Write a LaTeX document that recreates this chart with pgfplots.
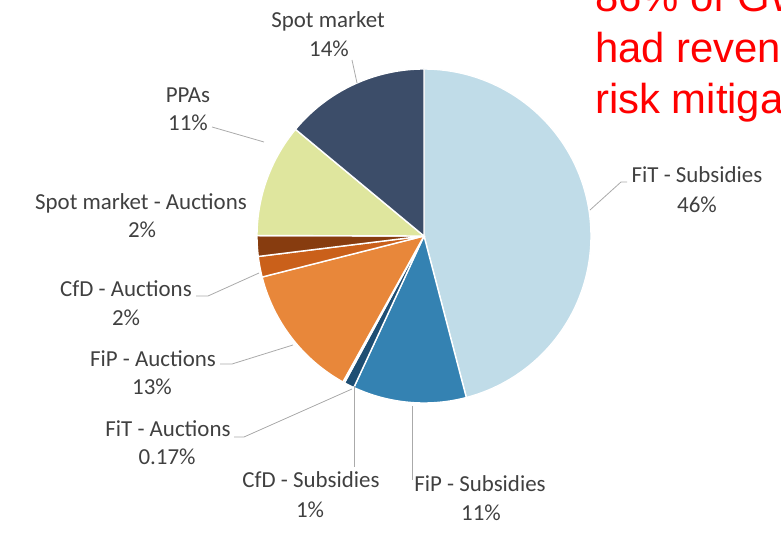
\documentclass[border=0pt]{standalone}
\usepackage{pgfplots}
\pgfplotsset{compat=1.18}
\usepackage{fontspec}
\setmainfont{Carlito}
\newfontfamily\arialfont{Liberation Sans}
\definecolor{cFiTs}{RGB}{192,220,232}
\definecolor{cFiPs}{RGB}{52,130,178}
\definecolor{cCfDs}{RGB}{30,78,115}
\definecolor{cFiTa}{RGB}{236,160,100}
\definecolor{cFiPa}{RGB}{232,135,58}
\definecolor{cCfDa}{RGB}{202,96,26}
\definecolor{cSpotA}{RGB}{135,60,15}
\definecolor{cPPA}{RGB}{223,230,158}
\definecolor{cSpot}{RGB}{60,77,105}
\definecolor{labgray}{RGB}{64,64,64}
\definecolor{leader}{RGB}{170,170,170}
\def\cum{0}
\def\total{100.17}
% slice: share (percent), colour
\newcommand{\slice}[2]{%
  \pgfmathsetmacro\sa{90-(\cum+#1)/\total*360}%
  \pgfmathsetmacro\sb{90-\cum/\total*360}%
  \addplot[fill=#2, draw=white, line width=1.4pt, domain=\sa:\sb, samples=90, variable=\t]
    ({424+167*cos(\t)},{297+167*sin(\t)}) -- (axis cs:424,297) -- cycle;
  \pgfmathsetmacro\newcum{\cum+#1}%
  \xdef\cum{\newcum}%
}
\newcommand{\lab}[3]{\node[anchor=base, inner sep=0pt, text=labgray, font=\fontsize{23}{28}\selectfont] at (axis cs:#1,#2) {#3};}
\begin{document}
\begin{tikzpicture}
\path[use as bounding box, clip] (0,0) rectangle (781bp,533bp);
\begin{axis}[
  at={(0,0)}, anchor=south west,
  scale only axis, width=781bp, height=533bp,
  xmin=0, xmax=781, ymin=0, ymax=533,
  hide axis, clip=false]
% shares clockwise from 12 o'clock
\slice{46}{cFiTs}     % FiT - Subsidies
\slice{11}{cFiPs}     % FiP - Subsidies
\slice{1}{cCfDs}      % CfD - Subsidies
\slice{0.17}{cFiTa}   % FiT - Auctions
\slice{13}{cFiPa}     % FiP - Auctions
\slice{2}{cCfDa}      % CfD - Auctions
\slice{2}{cSpotA}     % Spot market - Auctions
\slice{11}{cPPA}      % PPAs
\slice{14}{cSpot}     % Spot market
% leader lines
\draw[leader, line width=0.8bp] (axis cs:352,473) -- (axis cs:357,450);
\draw[leader, line width=0.8bp] (axis cs:212,406) -- (axis cs:264,391);
\draw[leader, line width=0.8bp] (axis cs:196,237) -- (axis cs:208,237) -- (axis cs:259,260);
\draw[leader, line width=0.8bp] (axis cs:220,169) -- (axis cs:232,169) -- (axis cs:293,188);
\draw[leader, line width=0.8bp] (axis cs:234,96) -- (axis cs:244,96) -- (axis cs:352,144);
\draw[leader, line width=0.8bp] (axis cs:354,147) -- (axis cs:354,66);
\draw[leader, line width=0.8bp] (axis cs:412,127) -- (axis cs:412,53);
\draw[leader, line width=0.8bp] (axis cs:590,323) -- (axis cs:621,351) -- (axis cs:627,351);
% labels
\lab{328}{505}{Spot market}\lab{329}{476}{14\%}
\lab{188}{430}{PPAs}\lab{188}{402}{11\%}
\lab{141}{323}{Spot market - Auctions}\lab{142}{295}{2\%}
\lab{126}{236}{CfD - Auctions}\lab{126}{207}{2\%}
\lab{153}{166}{FiP - Auctions}\lab{152}{138}{13\%}
\lab{168}{96}{FiT - Auctions}\lab{167}{68}{0.17\%}
\lab{311}{45}{CfD - Subsidies}\lab{310}{16}{1\%}
\lab{480}{41}{FiP - Subsidies}\lab{481}{13}{11\%}
\lab{697}{350}{FiT - Subsidies}\lab{697}{320}{46\%}
% red annotation (cut off at the picture's edge, as in the reference)
\node[anchor=base west, inner sep=0pt, text=red, font=\arialfont\fontsize{42}{50}\selectfont] at (axis cs:595,521) {86\% of GW};
\node[anchor=base west, inner sep=0pt, text=red, font=\arialfont\fontsize{42}{50}\selectfont] at (axis cs:595,470) {had revenue};
\node[anchor=base west, inner sep=0pt, text=red, font=\arialfont\fontsize{42}{50}\selectfont] at (axis cs:595,419) {risk mitigation};
\end{axis}
\end{tikzpicture}
\end{document}
